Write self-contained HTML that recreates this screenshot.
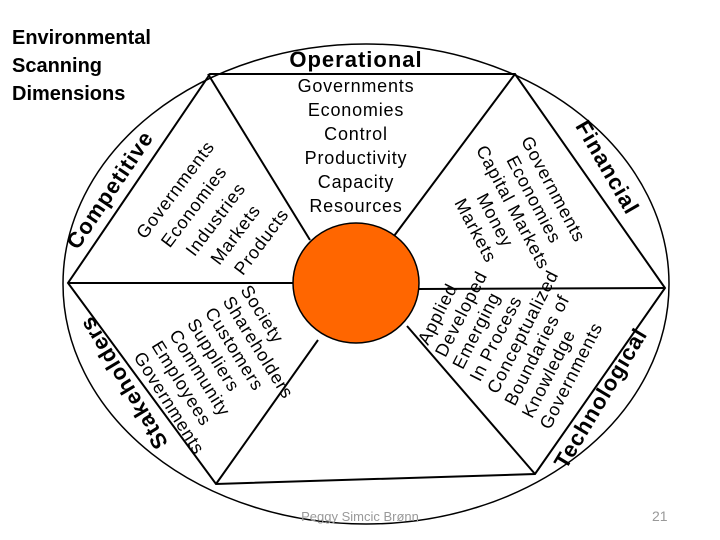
<!DOCTYPE html>
<html><head><meta charset="utf-8"><style>
html,body{margin:0;padding:0;background:#fff;}
svg{display:block;}
text{font-family:"Liberation Sans",Arial,sans-serif;fill:#000;}
.t{font-size:20px;font-weight:bold;}
.h{font-size:22px;font-weight:bold;letter-spacing:1px;}
.l{font-size:18px;letter-spacing:0.8px;}
</style></head><body>
<svg width="720" height="540" viewBox="0 0 720 540" xmlns="http://www.w3.org/2000/svg">
<ellipse cx="366" cy="284" rx="303" ry="240" fill="none" stroke="#000" stroke-width="1.5"/>
<polygon points="210,74 515,74 665,288 535,474 216,484 68,283" fill="none" stroke="#000" stroke-width="2"/>
<line x1="208" y1="74" x2="310" y2="240" stroke="#000" stroke-width="2"/>
<line x1="515" y1="74" x2="394" y2="236" stroke="#000" stroke-width="2"/>
<line x1="68" y1="283" x2="294" y2="283" stroke="#000" stroke-width="2"/>
<line x1="418" y1="289" x2="665" y2="288" stroke="#000" stroke-width="2"/>
<line x1="318" y1="340" x2="216" y2="484" stroke="#000" stroke-width="2"/>
<line x1="407" y1="326" x2="535" y2="474" stroke="#000" stroke-width="2"/>
<ellipse cx="356" cy="283" rx="63" ry="60" fill="#ff6600" stroke="#000" stroke-width="1.5"/>

<text class="t" x="12" y="44">Environmental</text>
<text class="t" x="12" y="72">Scanning</text>
<text class="t" x="12" y="100">Dimensions</text>

<text class="h" x="356" y="67" text-anchor="middle">Operational</text>
<g text-anchor="middle">
<text class="l" x="356" y="92">Governments</text>
<text class="l" x="356" y="116">Economies</text>
<text class="l" x="356" y="140">Control</text>
<text class="l" x="356" y="164">Productivity</text>
<text class="l" x="356" y="188">Capacity</text>
<text class="l" x="356" y="212">Resources</text>
</g>

<text class="h" text-anchor="middle" transform="translate(116,194) rotate(-56)">Competitive</text>
<g transform="translate(145,240) rotate(-53)">
<text class="l" x="0" y="0">Governments</text>
<text class="l" x="8" y="25">Economies</text>
<text class="l" x="16" y="50">Industries</text>
<text class="l" x="24" y="75">Markets</text>
<text class="l" x="30" y="100">Products</text>
</g>

<text class="h" text-anchor="middle" transform="translate(601,171) rotate(60)">Financial</text>
<g transform="translate(548,192) rotate(62)" text-anchor="middle">
<text class="l" x="0" y="0">Governments</text>
<text class="l" x="0" y="22">Economies</text>
<text class="l" x="-3" y="44">Capital Markets</text>
<text class="l" x="0" y="66">Money</text>
<text class="l" x="0" y="88">Markets</text>
</g>

<text class="h" text-anchor="middle" transform="translate(130,379) rotate(-121)">Stakeholders</text>
<g transform="translate(240,290) rotate(58)">
<text class="l" x="0" y="0">Society</text>
<text class="l" x="0" y="21">Shareholders</text>
<text class="l" x="0" y="42">Customers</text>
<text class="l" x="0" y="63">Suppliers</text>
<text class="l" x="0" y="84">Community</text>
<text class="l" x="0" y="105">Employees</text>
<text class="l" x="0" y="126">Governments</text>
</g>

<text class="h" text-anchor="middle" transform="translate(607,402) rotate(-59)">Technological</text>
<g transform="translate(428,346) rotate(-63)">
<text class="l" x="0" y="0">Applied</text>
<text class="l" x="-3" y="21">Developed</text>
<text class="l" x="-6" y="42">Emerging</text>
<text class="l" x="-9" y="63">In Process</text>
<text class="l" x="-12" y="84">Conceptualized</text>
<text class="l" x="-15" y="105">Boundaries of</text>
<text class="l" x="-18" y="126">Knowledge</text>
<text class="l" x="-20" y="147">Governments</text>
</g>

<text x="360" y="521" text-anchor="middle" style="font-size:13px;fill:#999;">Peggy Simcic Brønn</text>
<text x="652" y="521" style="font-size:14px;fill:#999;">21</text>
</svg>
</body></html>
